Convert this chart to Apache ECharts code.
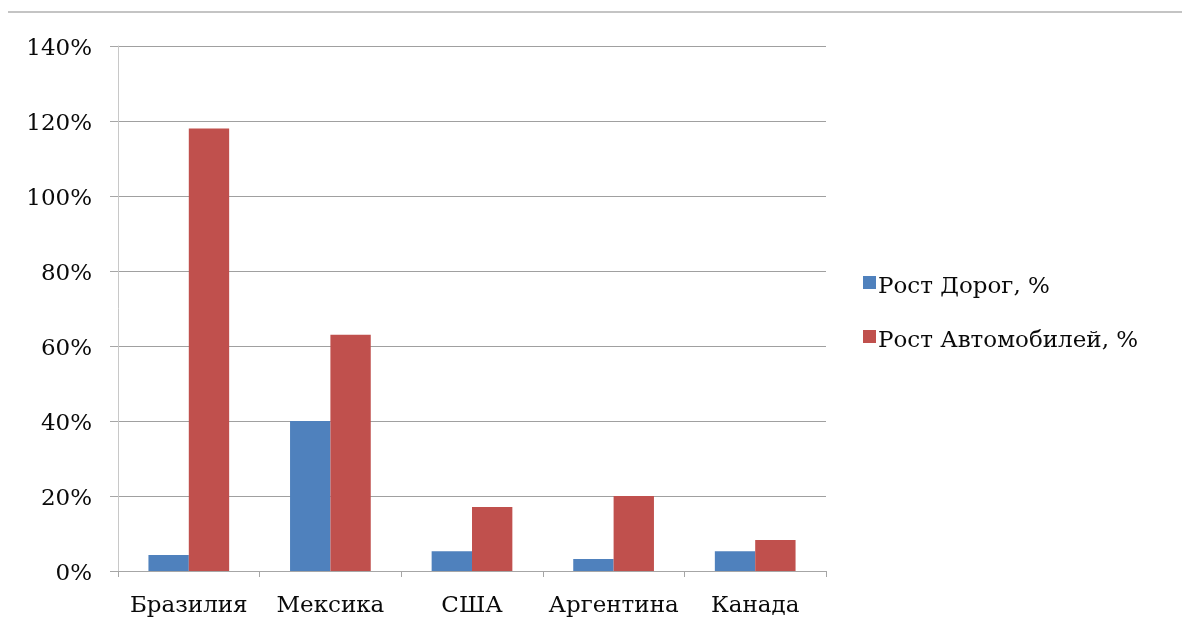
<!DOCTYPE html>
<html><head><meta charset="utf-8">
<script src="https://cdn.jsdelivr.net/npm/echarts@6/dist/echarts.min.js"></script>
<style>html,body{margin:0;padding:0;background:#fff}#c{width:1182px;height:630px}</style>
</head><body><div id="c"></div>
<script>
const categories = ['Бразилия', 'Мексика', 'США', 'Аргентина', 'Канада'];
const roads = [4.3, 40, 5.3, 3.2, 5.3];
const cars = [118, 63, 17.1, 20, 8.3];
const seriesNames = ['Рост Дорог, %', 'Рост Автомобилей, %'];
const yTicks = { min: 0, max: 140, interval: 20 };

const font = 'DejaVu Serif';
const chart = echarts.init(document.getElementById('c'), null, { renderer: 'canvas' });
chart.setOption({
  animation: false,
  backgroundColor: '#ffffff',
  textStyle: { fontFamily: font },
  graphic: [{
    type: 'line', shape: { x1: 8, y1: 12, x2: 1182, y2: 12 },
    style: { stroke: '#c4c4c4', lineWidth: 2 }
  }],
  legend: {
    orient: 'vertical', left: 858, top: 271, itemGap: 31,
    itemWidth: 13, itemHeight: 23,
    icon: 'path://M0,0L13,0L13,13L0,13Z M0,23L0.01,23',
    textStyle: { fontFamily: font, fontSize: 23, color: '#0a0a0a', padding: [0, 0, 0, -3] },
    data: seriesNames
  },
  grid: { left: 118, right: 356, top: 46, bottom: 59, containLabel: false },
  xAxis: {
    type: 'category', data: categories,
    axisLine: { lineStyle: { color: '#a6a6a6', width: 1 } },
    axisTick: { show: true, interval: 0, length: 6, lineStyle: { color: '#a6a6a6' } },
    axisLabel: { interval: 0, fontFamily: font, fontSize: 23, color: '#0a0a0a', margin: 24 }
  },
  yAxis: {
    type: 'value', min: yTicks.min, max: yTicks.max, interval: yTicks.interval,
    axisLine: { show: true, lineStyle: { color: '#c8c8c8', width: 1 } },
    axisTick: { show: true, length: 8, lineStyle: { color: '#a6a6a6' } },
    splitLine: { lineStyle: { color: '#a0a0a0', width: 1 } },
    axisLabel: {
      fontFamily: font, fontSize: 23, color: '#0a0a0a', margin: 26,
      formatter: v => '{a|' + v + '%}',
      rich: { a: { fontFamily: font, fontSize: 23, color: '#0a0a0a', padding: [7, 0, 0, 0] } }
    }
  },
  series: [
    { name: seriesNames[0], type: 'bar', data: roads, barGap: '0%', barCategoryGap: '43%',
      itemStyle: { color: '#4F81BD' } },
    { name: seriesNames[1], type: 'bar', data: cars, barGap: '0%', barCategoryGap: '43%',
      itemStyle: { color: '#C0504D' } }
  ]
});
</script></body></html>
